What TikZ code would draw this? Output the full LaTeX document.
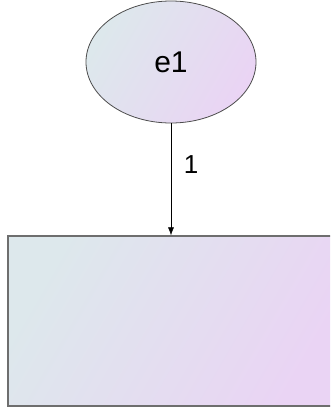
\documentclass[tikz,border=0pt]{standalone}
\usepackage{fontspec}
\setmainfont{Liberation Sans}
\usetikzlibrary{shapes.geometric,arrows.meta}
\definecolor{gradA}{RGB}{221,232,236}
\definecolor{gradB}{RGB}{234,212,244}
\definecolor{edgegray}{RGB}{110,110,110}
\tikzset{
  gradfill/.style={left color=gradA, right color=gradB, shading angle=60},
  latent/.style={ellipse, draw=edgegray!70!black, line width=0.8pt, gradfill, minimum width=170pt, minimum height=122pt, inner sep=0pt, font=\fontsize{30}{32}\selectfont},
  observed/.style={rectangle, draw=edgegray, line width=1.3pt, gradfill, minimum width=332pt, minimum height=170pt, inner sep=0pt},
  conn/.style={-{Latex[length=8pt,width=6pt]}, line width=0.6pt, black},
  lbl/.style={font=\fontsize{26}{28}\selectfont}
}
\begin{document}
\begin{tikzpicture}[x=1pt,y=-1pt]
\useasboundingbox (0,0) rectangle (330,410);
\clip (0,0) rectangle (330,410);
\node[observed] (box) at (174,321) {};
\node[latent] (e1) at (171,62) {e1};
\draw[conn] (e1.south) -- (e1.south |- box.north);
\node[lbl] (one) at (191,165) {1};
\end{tikzpicture}
\end{document}
